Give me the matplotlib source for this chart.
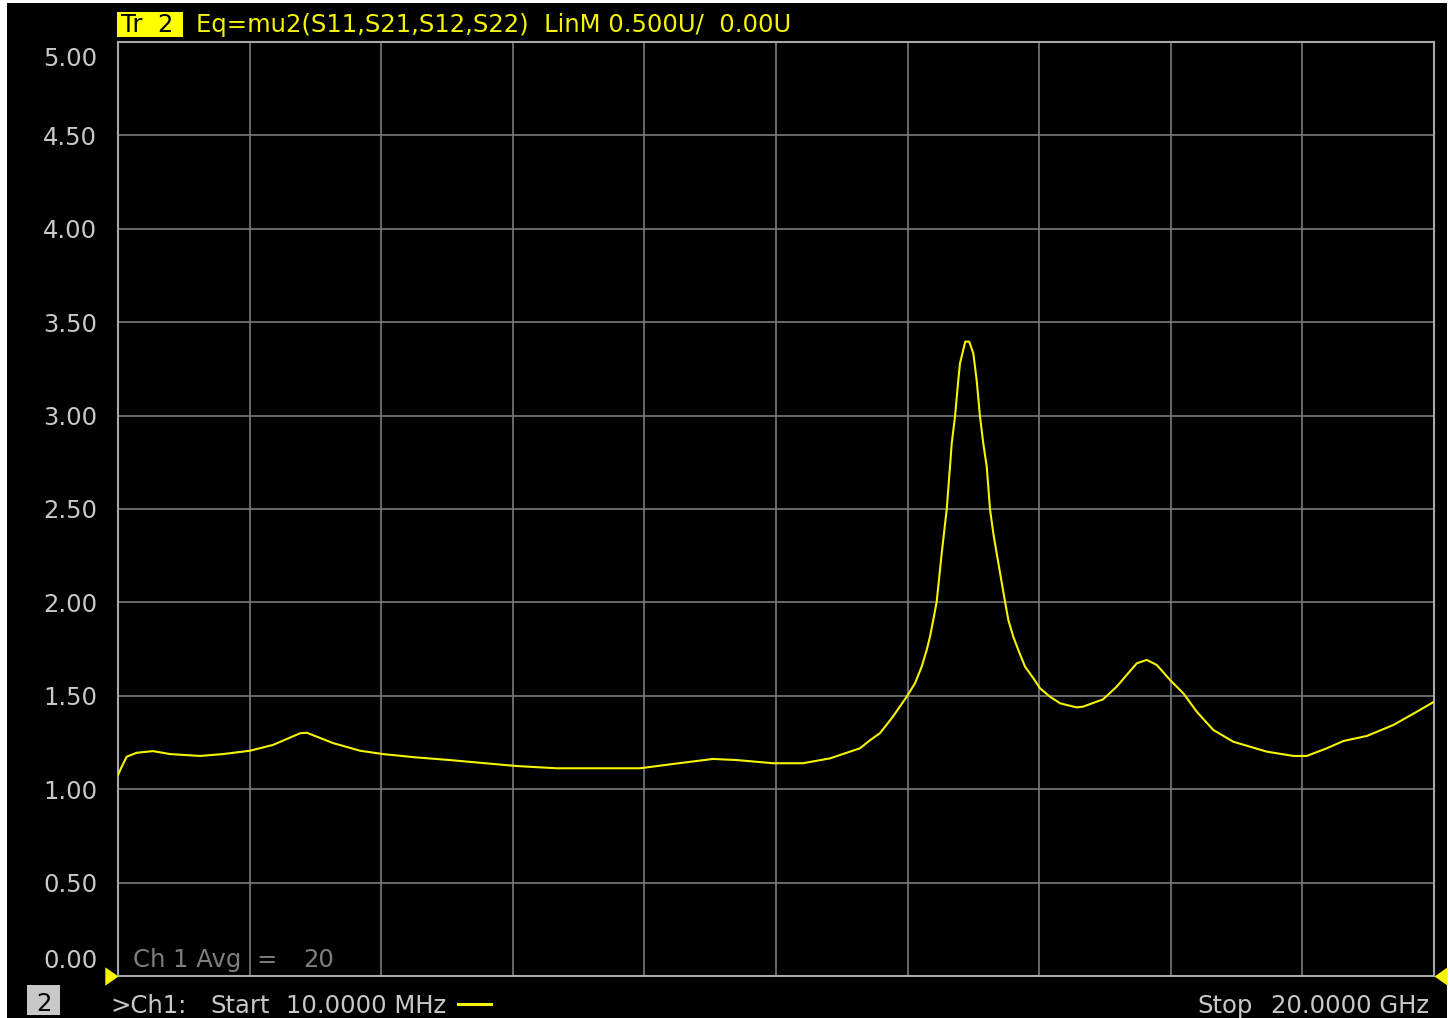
import numpy as np
import matplotlib
matplotlib.use('Agg')
import matplotlib.pyplot as plt
from matplotlib.patches import Rectangle
from matplotlib.lines import Line2D
from matplotlib.transforms import ScaledTranslation

# trace data: frequency (GHz) vs mu2
freq_ghz = [0.01, 0.066, 0.142, 0.294, 0.542, 0.80, 1.256, 1.605, 2.015, 2.364,
            2.78, 2.88, 3.276, 3.686, 4.035, 4.547, 5.053, 5.554, 6.066, 6.674,
            7.939, 8.44, 9.048, 9.41, 9.96, 10.415, 10.825, 11.28, 11.433, 11.585,
            11.78, 11.99, 12.116, 12.218, 12.294, 12.344, 12.394, 12.446, 12.522, 12.598,
            12.648, 12.674, 12.724, 12.774, 12.80, 12.88, 12.94, 13.002, 13.053, 13.104,
            13.154, 13.206, 13.256, 13.306, 13.357, 13.484, 13.534, 13.61, 13.686, 13.788,
            13.914, 14.016, 14.167, 14.32, 14.42, 14.573, 14.67, 14.973, 15.18, 15.485,
            15.637, 15.789, 15.99, 16.193, 16.396, 16.648, 16.952, 17.46, 17.864, 18.068,
            18.372, 18.624, 18.98, 19.384, 19.74, 20.0]
mu2 = [1.076, 1.12, 1.174, 1.195, 1.204, 1.188, 1.178, 1.188, 1.206, 1.237,
       1.30, 1.302, 1.247, 1.206, 1.188, 1.17, 1.156, 1.14, 1.124, 1.112,
       1.112, 1.135, 1.162, 1.156, 1.139, 1.139, 1.165, 1.219, 1.262, 1.30,
       1.388, 1.495, 1.567, 1.656, 1.745, 1.816, 1.906, 2.004, 2.263, 2.498,
       2.727, 2.85, 2.994, 3.19, 3.28, 3.396, 3.396, 3.333, 3.19, 2.994,
       2.85, 2.727, 2.498, 2.37, 2.263, 2.004, 1.906, 1.816, 1.745, 1.656,
       1.594, 1.54, 1.495, 1.46, 1.451, 1.438, 1.442, 1.481, 1.549, 1.674,
       1.692, 1.665, 1.585, 1.513, 1.415, 1.317, 1.254, 1.201, 1.178, 1.178,
       1.219, 1.258, 1.285, 1.344, 1.415, 1.468]

ytick_vals = [0.0, 0.5, 1.0, 1.5, 2.0, 2.5, 3.0, 3.5, 4.0, 4.5, 5.0]
ytick_labels = ['%.2f' % v for v in ytick_vals]
start_ghz, stop_ghz = 0.01, 20.0
ref_level = 0.0

W, H = 1450, 1018
GRAY = '#c8c8c8'
YEL = '#f5f500'
FS = 17.5

plt.rcParams['font.family'] = ['DejaVu Sans']

def fx(px):
    return px / W

def fy(py):
    return 1 - py / H

fig = plt.figure(figsize=(W / 100, H / 100), dpi=100, facecolor='white')
# black screen area (white strip left/top/right like the screenshot)
fig.patches.append(Rectangle((fx(7), 0), fx(1447) - fx(7), fy(3), transform=fig.transFigure,
                             facecolor='black', edgecolor='none', zorder=-5))

ax = fig.add_axes([fx(118), fy(976), fx(1434) - fx(118), fy(42) - fy(976)])
ax.set_facecolor('black')
ax.plot(freq_ghz, mu2, color=YEL, lw=1.5, zorder=3)
ax.set_xlim(start_ghz, stop_ghz)
ax.set_ylim(0, 5)
ax.set_xticks(np.linspace(start_ghz, stop_ghz, 11))
ax.set_xticklabels([])
ax.set_yticks(ytick_vals)
ax.set_yticklabels(ytick_labels, color=GRAY, fontsize=FS)
ax.tick_params(length=0, pad=15)
ax.grid(True, color='#7a7a7a', lw=1.2)
for s in ax.spines.values():
    s.set_color('#a8a8a8')
    s.set_linewidth(1.5)

# top and bottom labels sit inside the grid
labs = ax.get_yticklabels()
labs[-1].set_transform(labs[-1].get_transform() + ScaledTranslation(0, -0.14, fig.dpi_scale_trans))
labs[0].set_transform(labs[0].get_transform() + ScaledTranslation(0, 0.17, fig.dpi_scale_trans))

# reference level markers
tri_r = [(-1, 0.7), (0, 0), (-1, -0.7), (-1, 0.7)]
tri_l = [(1, 0.7), (0, 0), (1, -0.7), (1, 0.7)]
ax.plot([start_ghz], [ref_level], marker=tri_r, ms=19, color=YEL, mec='none', clip_on=False, zorder=5)
ax.plot([stop_ghz], [ref_level], marker=tri_l, ms=19, color=YEL, mec='none', clip_on=False, zorder=5)

# header
fig.patches.append(Rectangle((fx(117), fy(37)), fx(183) - fx(117), fy(12) - fy(37),
                             transform=fig.transFigure, facecolor='#ffff00', edgecolor='none'))
fig.text(fx(121), fy(32), 'Tr  2', color='black', fontsize=FS, va='baseline', ha='left')
fig.text(fx(196), fy(32), 'Eq=mu2(S11,S21,S12,S22)  LinM 0.500U/  0.00U', color=YEL,
         fontsize=FS, va='baseline', ha='left')

# averaging note
fig.text(fx(133), fy(967), 'Ch 1 Avg', color='#7f7f7f', fontsize=FS, va='baseline')
fig.text(fx(256), fy(967), '=', color='#7f7f7f', fontsize=FS, va='baseline')
fig.text(fx(303), fy(967), '20', color='#7f7f7f', fontsize=FS, va='baseline')

# footer
fig.patches.append(Rectangle((fx(27), fy(1015)), fx(60) - fx(27), fy(985) - fy(1015),
                             transform=fig.transFigure, facecolor=GRAY, edgecolor='none'))
fig.text(fx(43.5), fy(1011), '2', color='black', fontsize=FS, va='baseline', ha='center')
fig.text(fx(110), fy(1013), '>Ch1:', color=GRAY, fontsize=FS, va='baseline')
fig.text(fx(210), fy(1013), 'Start', color=GRAY, fontsize=FS, va='baseline')
fig.text(fx(286), fy(1013), '10.0000 MHz', color=GRAY, fontsize=FS, va='baseline')
fig.add_artist(Line2D([fx(458), fx(491)], [fy(1004), fy(1004)], color=YEL, lw=2.2,
                      transform=fig.transFigure))
fig.text(fx(1197), fy(1013), 'Stop', color=GRAY, fontsize=FS, va='baseline')
fig.text(fx(1429), fy(1013), '20.0000 GHz', color=GRAY, fontsize=FS, va='baseline', ha='right')

fig.savefig('out.png', dpi=100, facecolor='white')
